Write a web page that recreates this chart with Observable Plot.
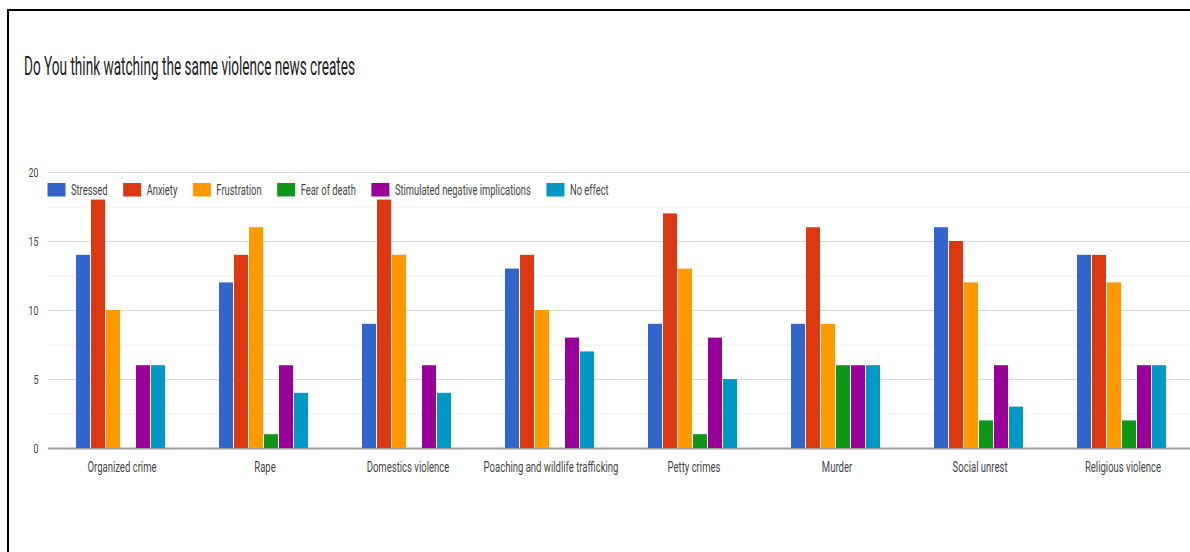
<!DOCTYPE html>
<html>
<head>
<meta charset="utf-8">
<script src="https://cdn.jsdelivr.net/npm/d3@7"></script>
<script src="https://cdn.jsdelivr.net/npm/@observablehq/plot@0.6"></script>
<style>
  html, body { margin: 0; padding: 0; background: #fff; overflow: hidden; }
  #chart { position: relative; width: 1190px; height: 552px; overflow: hidden; background: #fff;
           font-family: Roboto, "Liberation Sans", sans-serif; }
  #frame { position: absolute; left: 7px; top: 9px; width: 1300px; height: 700px;
           border-left: 2px solid #000; border-top: 2px solid #000; }
  #title { position: absolute; left: 24px; top: 53px; font-size: 26px; line-height: 26px;
           color: #212121; white-space: nowrap; transform-origin: 0 0; }
  .layer { position: absolute; left: 0; top: 160px; }
</style>
</head>
<body>
<div id="chart">
  <div id="frame"></div>
  <div id="title">Do You think watching the same violence news creates</div>
</div>
<script>
// ---- data ----
const categories = ["Organized crime", "Rape", "Domestics violence", "Poaching and wildlife trafficking",
                    "Petty crimes", "Murder", "Social unrest", "Religious violence"];
const seriesNames = ["Stressed", "Anxiety", "Frustration", "Fear of death", "Stimulated negative implications", "No effect"];
const colors = ["#3366cc", "#dc3912", "#ff9900", "#109618", "#990099", "#0099c6"];
const stressed    = [14, 12,  9, 13,  9,  9, 16, 14];
const anxiety     = [18, 14, 18, 14, 17, 16, 15, 14];
const frustration = [10, 16, 14, 10, 13,  9, 12, 12];
const fearOfDeath = [ 0,  1,  0,  0,  1,  6,  2,  2];
const stimulated  = [ 6,  6,  6,  8,  8,  6,  6,  6];
const noEffect    = [ 6,  4,  4,  7,  5,  6,  3,  6];
const majorTicks = [0, 5, 10, 15, 20];
const minorTicks = [2.5, 7.5, 12.5, 17.5];

const seriesValues = [stressed, anxiety, frustration, fearOfDeath, stimulated, noEffect];
const rows = categories.flatMap((c, i) =>
  seriesNames.map((s, j) => ({category: c, series: s, value: seriesValues[j][i]})));

const chart = document.getElementById("chart");

// horizontally compress text about its anchor point (reference image is squeezed)
function squeeze(nodes, k, anchor) {
  nodes.forEach(t => {
    const b = t.getBBox();
    const cx = anchor === "end" ? b.x + b.width : anchor === "start" ? b.x : b.x + b.width / 2;
    const tr = t.getAttribute("transform") || "";
    t.setAttribute("transform", `${tr} translate(${cx},0) scale(${k},1) translate(${-cx},0)`);
  });
}

// title
const title = document.getElementById("title");
const tw = title.getBoundingClientRect().width;
title.style.transform = `scaleX(${331 / tw})`;

const common = {
  width: 1195, height: 328, marginTop: 12, marginBottom: 40, marginLeft: 48, marginRight: 0,
  style: {background: "transparent", maxWidth: "none", fontFamily: "Roboto", color: "#444", overflow: "visible"}
};

// axes + grid
const plotA = Plot.plot({
  ...common,
  x: {type: "band", domain: categories, padding: 0, tickSize: 0, tickPadding: 14, label: null},
  y: {domain: [0, 20], ticks: majorTicks, tickSize: 0, tickPadding: 10, label: null},
  marks: [
    Plot.ruleY(minorTicks, {stroke: "#eeeeee"}),
    Plot.ruleY(majorTicks.filter(d => d > 0), {stroke: "#d9d9d9"}),
    Plot.ruleY([0], {stroke: "#9e9e9e", strokeWidth: 2})
  ]
});
plotA.classList.add("layer");
chart.appendChild(plotA);
const xt = [...plotA.querySelectorAll('[aria-label^="x-axis"] text')];
xt.forEach(t => { t.style.fontSize = "14px"; });
const yt = [...plotA.querySelectorAll('[aria-label^="y-axis"] text')];
yt.forEach(t => { t.style.fontSize = "13px"; });
squeeze(xt, 0.68, "middle");
squeeze(yt, 0.68, "end");

// grouped bars
const plotB = Plot.plot({
  ...common,
  facet: {data: rows, x: "category"},
  fx: {domain: categories, paddingInner: 0.34, paddingOuter: 0.17, axis: null, label: null},
  x: {domain: seriesNames, padding: 0.05, axis: null},
  y: {domain: [0, 20], axis: null},
  color: {domain: seriesNames, range: colors},
  marks: [Plot.barY(rows, {x: "series", y: "value", fill: "series"})]
});
plotB.classList.add("layer");
chart.appendChild(plotB);

// legend
const legend = d3.select(chart).append("svg")
  .attr("width", 1190).attr("height", 30)
  .style("position", "absolute").style("left", "0px").style("top", "176px");
const kLegend = 0.67;
let lx = 47.5;
seriesNames.forEach((name, i) => {
  legend.append("rect").attr("x", lx).attr("y", 7).attr("width", 18).attr("height", 13.5).attr("fill", colors[i]);
  const t = legend.append("text").attr("x", lx + 23.5).attr("y", 19)
    .attr("font-size", 14).attr("fill", "#444").text(name);
  const w = t.node().getComputedTextLength() * kLegend;
  squeeze([t.node()], kLegend, "start");
  lx += 23.5 + w + 15.5;
});
</script>
</body>
</html>
